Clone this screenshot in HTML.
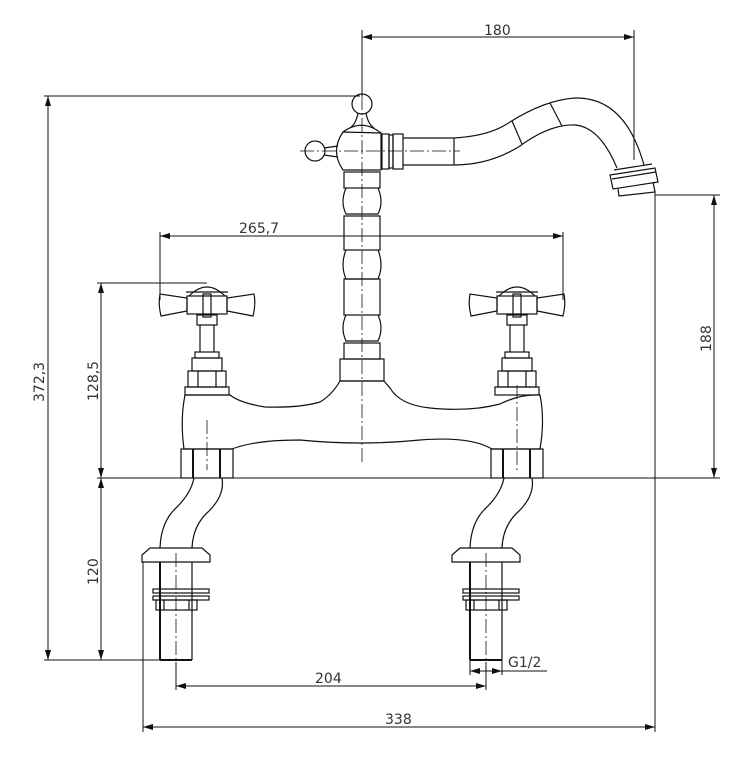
<!DOCTYPE html>
<html><head><style>html,body{margin:0;padding:0;background:#fff}svg{display:block}text{font-family:"DejaVu Sans","Liberation Sans",sans-serif;font-size:14px;fill:#333;stroke:none;font-weight:normal}</style></head><body>
<svg width="752" height="768" viewBox="0 0 752 768" xmlns="http://www.w3.org/2000/svg" fill="none" stroke="#111" stroke-width="1.2">
<defs>
<marker id="a" viewBox="0 0 10 6" refX="10" refY="3" markerWidth="10" markerHeight="6" orient="auto-start-reverse"><path d="M0,0L10,3L0,6z" fill="#111" stroke="none"/></marker>
<g id="hd">
<path d="M-47,12 Q-49,22 -46,34 L-20,29 L-20,16 Z"/>
<path d="M47,12 Q49,22 46,34 L20,29 L20,16 Z"/>
<rect x="-20" y="14" width="40" height="18"/>
<path d="M-18,14 Q0,-4 18,14"/><line x1="-21" y1="10" x2="21" y2="10"/>
<rect x="-4" y="12" width="8" height="23"/>
<rect x="-10" y="33" width="20" height="10"/>
<line x1="-7" y1="43" x2="-7" y2="70"/><line x1="7" y1="43" x2="7" y2="70"/>
<rect x="-12" y="70" width="24" height="6"/>
<rect x="-15" y="76" width="30" height="13"/>
<rect x="-19" y="89" width="38" height="16"/><line x1="-9" y1="89" x2="-9" y2="105"/><line x1="9" y1="89" x2="9" y2="105"/>
<rect x="-22" y="105" width="44" height="8"/>
</g>
<g id="leg">
<rect x="0" y="0" width="52" height="29"/><line x1="12" y1="0" x2="12" y2="29" stroke-width="2"/><line x1="39" y1="0" x2="39" y2="29" stroke-width="2"/>
<path d="M13,29 Q10,44 -4,58 Q-20,72 -21,99"/>
<path d="M41,29 Q44,46 28,62 Q12,76 11,99"/>
<path d="M-39,106 L-31,99 L21,99 L29,106 L29,113 L-39,113 Z"/>
<line x1="-21" y1="113" x2="-21" y2="211" stroke-width="2"/><line x1="11" y1="113" x2="11" y2="211"/>
<line x1="-21" y1="211" x2="11" y2="211" stroke-width="2"/>
<rect x="-28" y="140" width="56" height="4"/><rect x="-28" y="147" width="56" height="4"/>
<rect x="-25" y="151" width="41" height="10"/><line x1="-17" y1="151" x2="-17" y2="161"/><line x1="8" y1="151" x2="8" y2="161"/>
</g>
</defs>
<!-- dimension lines -->
<g stroke-width="1">
<line x1="362" y1="30" x2="362" y2="96"/><line x1="634" y1="30" x2="634" y2="160"/>
<line x1="362" y1="37" x2="634" y2="37" marker-start="url(#a)" marker-end="url(#a)"/>
<line x1="44" y1="96" x2="360" y2="96"/>
<line x1="48" y1="96" x2="48" y2="660" marker-start="url(#a)" marker-end="url(#a)"/>
<line x1="44" y1="660" x2="165" y2="660"/>
<line x1="160" y1="232" x2="160" y2="300"/><line x1="563" y1="232" x2="563" y2="300"/>
<line x1="160" y1="236" x2="563" y2="236" marker-start="url(#a)" marker-end="url(#a)"/>
<line x1="97" y1="283" x2="207" y2="283"/>
<line x1="101" y1="283" x2="101" y2="478" marker-start="url(#a)" marker-end="url(#a)"/>
<line x1="101" y1="478" x2="101" y2="660" marker-start="url(#a)" marker-end="url(#a)"/>
<line x1="97" y1="478" x2="720" y2="478"/>
<line x1="655" y1="195" x2="720" y2="195"/>
<line x1="714" y1="195" x2="714" y2="478" marker-start="url(#a)" marker-end="url(#a)"/>
<line x1="655" y1="190" x2="655" y2="732"/><line x1="143" y1="562" x2="143" y2="732"/>
<line x1="143" y1="727" x2="655" y2="727" marker-start="url(#a)" marker-end="url(#a)"/>
<line x1="176" y1="662" x2="176" y2="690"/><line x1="486" y1="662" x2="486" y2="690"/>
<line x1="176" y1="686" x2="486" y2="686" marker-start="url(#a)" marker-end="url(#a)"/>
<line x1="470" y1="660" x2="470" y2="675"/><line x1="502" y1="660" x2="502" y2="675"/>
<line x1="470" y1="671" x2="502" y2="671" marker-start="url(#a)" marker-end="url(#a)"/>
<line x1="502" y1="671" x2="547" y2="671"/>
</g>
<text x="484" y="35">180</text>
<text x="239" y="233">265,7</text>
<text x="315" y="683">204</text>
<text x="385" y="724">338</text>
<text x="508" y="667">G1/2</text>
<text transform="translate(44,402) rotate(-90)">372,3</text>
<text transform="translate(98,401) rotate(-90)">128,5</text>
<text transform="translate(98,585) rotate(-90)">120</text>
<text transform="translate(711,352) rotate(-90)">188</text>
<!-- center lines -->
<g stroke-width="0.8" stroke-dasharray="14,3,2,3">
<line x1="362" y1="96" x2="362" y2="465"/><line x1="300" y1="151" x2="460" y2="151"/>
<line x1="207" y1="420" x2="207" y2="470"/><line x1="517" y1="385" x2="517" y2="470"/>
<line x1="176" y1="553" x2="176" y2="660"/><line x1="486" y1="553" x2="486" y2="660"/>
</g>
<!-- spout & column -->
<circle cx="362" cy="104" r="10"/><path d="M358,113 Q356,124 350,128 M366,113 Q368,124 374,128"/>
<circle cx="315" cy="151" r="10"/><path d="M324,148 L338,146 M324,155 L338,157"/>
<path d="M343,132 Q330,151 343,170 L381,170 L381,133 Z"/><path d="M343,132 Q362,118 381,133"/>
<rect x="382" y="134" width="7" height="35"/><rect x="389" y="135" width="4" height="33"/><rect x="393" y="134" width="10" height="35"/>
<path d="M403,138 L454,138 Q490,136 510,122 Q545,100 575,98 Q625,97 644,165"/>
<path d="M403,165 L454,165 Q490,165 520,146 Q550,124 575,125 Q600,127 617,168"/>
<line x1="454" y1="138" x2="454" y2="165"/><line x1="512" y1="121" x2="522" y2="144"/><line x1="550" y1="103" x2="562" y2="126"/>
<path d="M610,175 L655,168 L658,182 L613,189 Z"/><path d="M614,170 L652,164 M612,179 L656,172"/>
<path d="M618,189 L619,196 L655,192 L653,182"/>
<rect x="344" y="172" width="36" height="16"/>
<path d="M346,188 Q340,202 346,214 L378,214 Q384,202 378,188"/>
<rect x="344" y="216" width="36" height="34"/>
<path d="M346,250 Q340,265 346,279 L378,279 Q384,265 378,250"/>
<rect x="344" y="279" width="36" height="36"/>
<path d="M346,315 Q340,328 346,341 L378,341 Q384,328 378,315"/>
<rect x="344" y="343" width="36" height="16"/>
<rect x="340" y="359" width="44" height="22"/>
<!-- bridge body -->
<path d="M185,395 Q180,420 184,449 L232,449 Q255,440 300,440 Q360,446 420,440 Q470,436 492,449 L540,449 Q545,420 540,395 Q520,394 500,404 Q470,412 430,408 Q400,405 390,388 L384,381 L340,381 Q332,395 320,402 Q300,408 265,407 Q240,403 230,395 Z"/>
<use href="#hd" x="207" y="282"/><use href="#hd" x="517" y="282"/>
<use href="#leg" x="181" y="449"/><use href="#leg" x="491" y="449"/>
</svg>
</body></html>
